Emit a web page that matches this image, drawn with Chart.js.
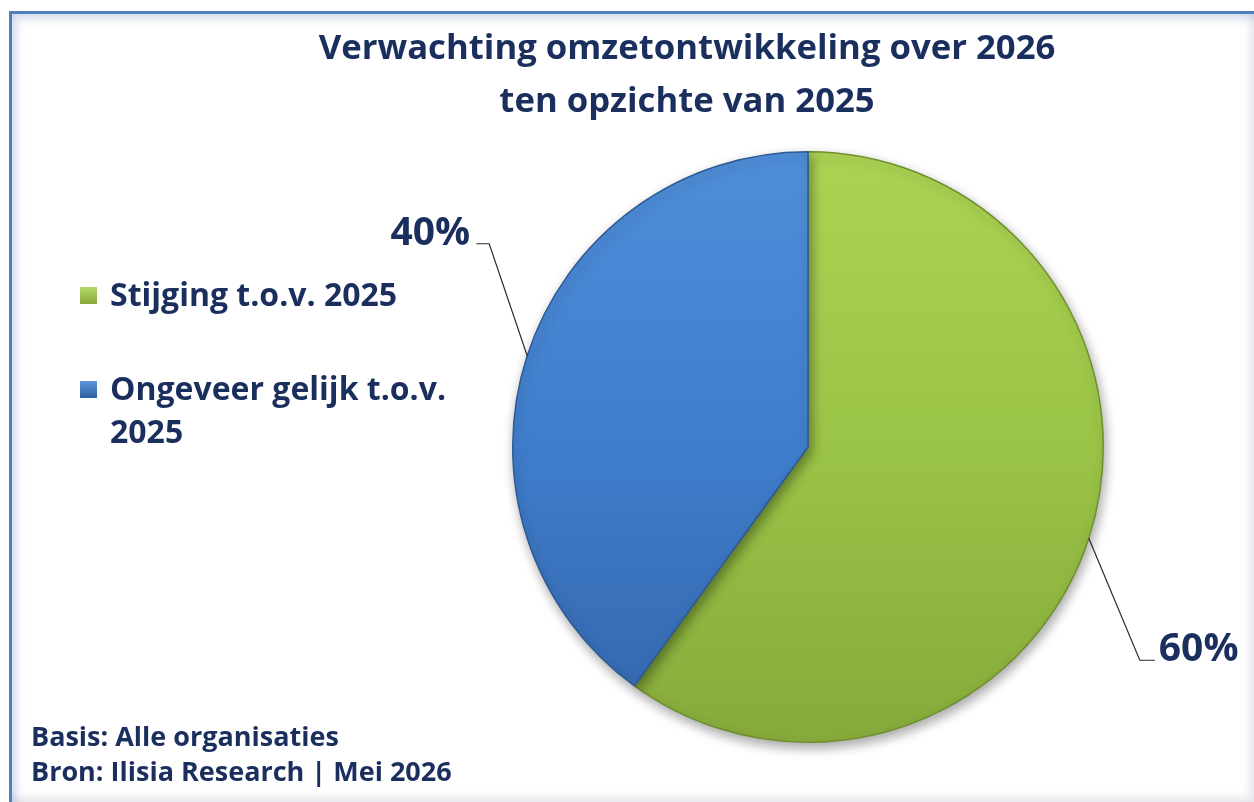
<!DOCTYPE html>
<html>
<head>
<meta charset="utf-8">
<script src="https://cdn.jsdelivr.net/npm/chart.js@4.4.1/dist/chart.umd.min.js"></script>
<style>
  html, body { margin: 0; padding: 0; background: #fff; }
  #wrap { position: relative; width: 1254px; height: 802px; overflow: hidden; font-family: "Open Sans", Lato, sans-serif; color: #1b2f5e; }
  #frame { position: absolute; left: 9px; top: 11px; width: 1245px; height: 791px; box-sizing: border-box;
           border-top: 3px solid #4f7fbd; border-left: 3px solid #4f7fbd;
           box-shadow: inset 8px 8px 10px -4px rgba(120,140,190,0.35), inset -8px -8px 10px -4px rgba(150,150,170,0.25); }
  canvas { position: absolute; left: 0; top: 0; }
  .title { position: absolute; left: 187px; width: 1000px; text-align: center; font-weight: 700; font-size: 34.7px; line-height: 44px; }
  .leg { position: absolute; left: 80px; font-weight: 700; font-size: 32px; line-height: 43px; }
  .leg i { display: inline-block; width: 17px; height: 17px; margin-right: 13px; vertical-align: 2px; }
  .foot { position: absolute; left: 31px; font-weight: 700; font-size: 27px; line-height: 32px; }
</style>
</head>
<body>
<div id="wrap">
  <div id="frame"></div>
  <canvas id="c" width="1254" height="802"></canvas>
  <div class="title" style="top:24px">Verwachting omzetontwikkeling over 2026</div>
  <div class="title" style="top:77px">ten opzichte van 2025</div>
  <div class="leg" style="top:272px"><i style="background:linear-gradient(#b5d96a,#86a93a)"></i>Stijging t.o.v. 2025</div>
  <div class="leg" style="top:366px"><i style="background:linear-gradient(#5a95dc,#2f5f9f)"></i>Ongeveer gelijk t.o.v.<br><span style="padding-left:30px">2025</span></div>
  <div class="foot" style="top:720px">Basis: Alle organisaties</div>
  <div class="foot" style="top:755px">Bron: Ilisia Research | Mei 2026</div>
</div>
<script>
const categories = ['Stijging t.o.v. 2025', 'Ongeveer gelijk t.o.v. 2025'];
const values = [60, 40];
const valueLabels = ['60%', '40%'];

// leader line offsets per slice (elbow and horizontal end)
const leaders = [
  { dx: 51, dy: 122, hx: 15 },
  { dx: -38, dy: -112, hx: -13 }
];

function sliceGradient(ctx, i) {
  const chart = ctx.chart;
  const area = chart.chartArea;
  if (!area) return i === 0 ? '#9cc64a' : '#4180cc';
  const g = chart.ctx.createLinearGradient(0, area.top, 0, area.bottom);
  if (i === 0) {
    g.addColorStop(0, '#acd453');
    g.addColorStop(0.5, '#9ac447');
    g.addColorStop(1, '#86aa3b');
  } else {
    g.addColorStop(0, '#4f8ed9');
    g.addColorStop(0.5, '#3f7dcb');
    g.addColorStop(1, '#3466ab');
  }
  return g;
}

const shadowPlugin = {
  id: 'shadow',
  beforeDatasetsDraw(chart) {
    const c = chart.ctx;
    c.save();
    c.shadowColor = 'rgba(0,0,0,0.35)';
    c.shadowBlur = 12;
    c.shadowOffsetX = 2;
    c.shadowOffsetY = 5;
  },
  afterDatasetsDraw(chart) {
    chart.ctx.restore();
  }
};

const labelPlugin = {
  id: 'pieLabels',
  afterDatasetsDraw(chart) {
    const c = chart.ctx;
    const meta = chart.getDatasetMeta(0);
    meta.data.forEach((arc, i) => {
      const mid = (arc.startAngle + arc.endAngle) / 2;
      const x0 = arc.x + Math.cos(mid) * arc.outerRadius;
      const y0 = arc.y + Math.sin(mid) * arc.outerRadius;
      const L = leaders[i];
      const x1 = x0 + L.dx, y1 = y0 + L.dy;
      const x2 = x1 + L.hx;
      c.save();
      c.strokeStyle = '#2b2b2b';
      c.lineWidth = 1.2;
      c.beginPath();
      c.moveTo(x0, y0);
      c.lineTo(x1, y1);
      c.lineTo(x2, y1);
      c.stroke();
      c.fillStyle = '#1b2f5e';
      c.font = 'bold 39px "Open Sans", Lato, sans-serif';
      c.textBaseline = 'alphabetic';
      c.textAlign = L.hx > 0 ? 'left' : 'right';
      c.fillText(valueLabels[i], x2 + (L.hx > 0 ? 4 : -6), y1 + 1);
      c.restore();
    });
  }
};

new Chart(document.getElementById('c'), {
  type: 'pie',
  data: {
    labels: categories,
    datasets: [{
      data: values,
      backgroundColor: (ctx) => sliceGradient(ctx, ctx.dataIndex),
      borderColor: ['#6f8f2e', '#2c5a94'],
      borderWidth: 1.5
    }]
  },
  options: {
    responsive: false,
    animation: false,
    layout: { padding: { left: 512, right: 150, top: 151, bottom: 59 } },
    plugins: {
      legend: { display: false },
      tooltip: { enabled: false },
      title: { display: false }
    }
  },
  plugins: [shadowPlugin, labelPlugin]
});
</script>
</body>
</html>
